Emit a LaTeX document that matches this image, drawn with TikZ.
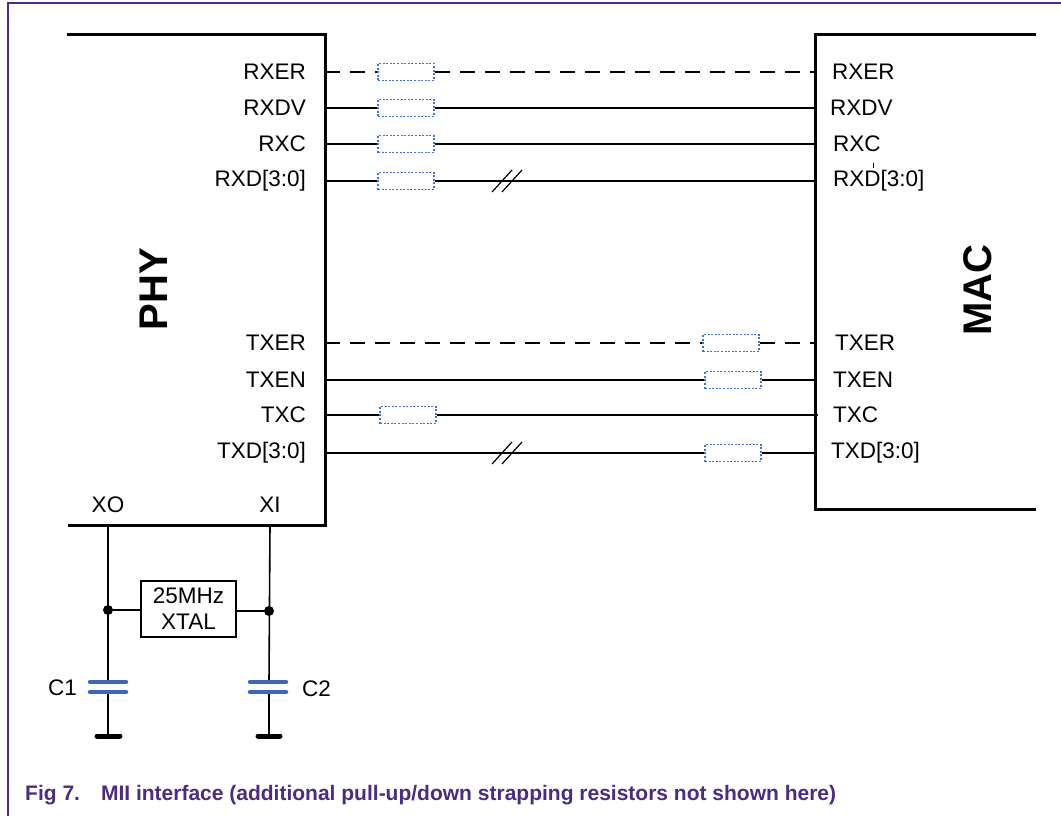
\documentclass[tikz,border=0pt]{standalone}
\usepackage{fontspec}
\setmainfont{Liberation Sans}
\definecolor{frameP}{HTML}{4B2C7E}
\definecolor{resB}{HTML}{4472C4}
\definecolor{capB}{HTML}{4068B0}
\begin{document}
\begin{tikzpicture}[x=1pt,y=-1pt,
  lbl/.style={font=\fontsize{22.5}{26}\selectfont, inner sep=0pt},
  res/.style={draw=resB, dash pattern=on 2pt off 1.6pt, line width=1.5pt, minimum width=56pt, minimum height=17pt, inner sep=0pt},
  sig/.style={line width=1.6pt},
  dsig/.style={line width=1.6pt, dash pattern=on 15pt off 10pt},
  boxline/.style={line width=3pt},
  capplate/.style={draw=capB, line width=4.5pt, line cap=round},
  gnd/.style={line width=5pt, line cap=round},
  dot/.style={circle, fill=black, inner sep=0pt, minimum size=10pt},
  big/.style={font=\bfseries\fontsize{40}{44}\selectfont, rotate=90, inner sep=0pt}
]
\useasboundingbox (0,0) rectangle (1061,816);
% frame
\draw[frameP, line width=1.5pt] (8,816) -- (8,3) -- (1061,3);

% PHY box (open on left)
\draw[boxline] (67,35) -- (325,35) -- (325,525) -- (68,525);
% MAC box (open on right)
\draw[boxline] (1036,35) -- (815,35) -- (815,509) -- (1036,509);

\node[big] (phy) at (154,289) {PHY};
\node[big] (mac) at (978,290) {MAC};

% pin coordinates
\foreach \n/\y in {rxer/72, rxdv/108, rxc/144, rxd/181, txer/343, txen/380, txc/415, txd/453} {
  \coordinate (L\n) at (325,\y);
  \coordinate (R\n) at (815,\y);
}

% left labels
\node[lbl, anchor=east] (lrxer) at (306,72) {RXER};
\node[lbl, anchor=east] (lrxdv) at (306,108) {RXDV};
\node[lbl, anchor=east] (lrxc) at (306,144) {RXC};
\node[lbl, anchor=east] (lrxd) at (306,181) {RXD[3:0]};
\node[lbl, anchor=east] (ltxer) at (306,343) {TXER};
\node[lbl, anchor=east] (ltxen) at (306,380) {TXEN};
\node[lbl, anchor=east] (ltxc) at (306,415) {TXC};
\node[lbl, anchor=east] (ltxd) at (306,453) {TXD[3:0]};
% right labels
\node[lbl, anchor=west] (mrxer) at (832,72) {RXER};
\node[lbl, anchor=west] (mrxdv) at (830,108) {RXDV};
\node[lbl, anchor=west] (mrxc) at (833,144) {RXC};
\node[lbl, anchor=west] (mrxd) at (833,181) {RXD[3:0]};
\node[lbl, anchor=west] (mtxer) at (835,343) {TXER};
\node[lbl, anchor=west] (mtxen) at (833,380) {TXEN};
\node[lbl, anchor=west] (mtxc) at (833,415) {TXC};
\node[lbl, anchor=west] (mtxd) at (831,453) {TXD[3:0]};
\draw[line width=0.8pt] (873,163) -- (873,168);

% resistors
\node[res] (r1) at (406,72) {};
\node[res] (r2) at (406,108) {};
\node[res] (r3) at (406,144) {};
\node[res] (r4) at (406,181) {};
\node[res] (r5) at (731,343) {};
\node[res] (r6) at (733,380) {};
\node[res] (r7) at (408,415) {};
\node[res] (r8) at (733,453) {};

% connectors
\draw[dsig] (Lrxer) -- (r1.west);
\draw[dsig] (r1.east) -- (Rrxer);
\draw[sig] (Lrxdv) -- (r2.west);
\draw[sig] (r2.east) -- (Rrxdv);
\draw[sig] (Lrxc) -- (r3.west);
\draw[sig] (r3.east) -- (Rrxc);
\draw[sig] (Lrxd) -- (r4.west);
\draw[sig] (r4.east) -- (Rrxd);
\draw[dsig] (Ltxer) -- (r5.west);
\draw[dsig] (r5.east) -- (Rtxer);
\draw[sig] (Ltxen) -- (r6.west);
\draw[sig] (r6.east) -- (Rtxen);
\draw[sig] (Ltxc) -- (r7.west);
\draw[sig] (r7.east) -- ([xshift=3pt]Rtxc);
\draw[sig] (Ltxd) -- (r8.west);
\draw[sig] (r8.east) -- (Rtxd);

% bus slashes
\foreach \y in {181,453} {
  \draw[line width=1.2pt] (492,\y+11) -- (512,\y-11);
  \draw[line width=1.2pt] (502,\y+11) -- (522,\y-11);
}

% crystal section
\node[lbl] (xo) at (108,505) {XO};
\node[lbl] (xi) at (270,505) {XI};
\coordinate (xotop) at (108,525);
\coordinate (xitop) at (270,525);
\node[dot] (j1) at (108,610) {};
\node[dot] (j2) at (269,611) {};
\node[draw, line width=1.5pt, minimum width=95pt, minimum height=56pt, inner sep=0pt, align=center,
      font=\fontsize{22.5}{26}\selectfont] (xtal) at (188.5,609) {25MHz\\XTAL};
\draw[sig] (j1) -- (xtal.west |- j1);
\draw[sig] (xtal.east |- j2) -- (j2);

% capacitors
\coordinate (c1a) at (108,682);
\coordinate (c1b) at (108,692);
\coordinate (c2a) at (269,682);
\coordinate (c2b) at (269,692);
\coordinate (g1) at (108,736);
\coordinate (g2) at (269,736);
\draw[sig] (xotop) -- (c1a);
\draw[sig] (xitop) -- (c2a);
\draw[sig] (c1b) -- (g1);
\draw[sig] (c2b) -- (g2);
\draw[capplate] (90,682) -- (126,682);
\draw[capplate] (90,692) -- (126,692);
\draw[capplate] (250,682) -- (286,682);
\draw[capplate] (250,692) -- (286,692);
\draw[gnd] (97,736) -- (120,736);
\draw[gnd] (258,736) -- (280,736);
\node[lbl, anchor=east] (c1) at (77,688) {C1};
\node[lbl, anchor=west] (c2) at (302,689) {C2};

% caption
\node[anchor=base west, inner sep=0pt, text=frameP, font=\bfseries\fontsize{21}{25}\selectfont] (cap) at (25,800)
  {Fig 7.\hspace{21pt}MII interface (additional pull-up/down strapping resistors not shown here)};
\end{tikzpicture}
\end{document}
